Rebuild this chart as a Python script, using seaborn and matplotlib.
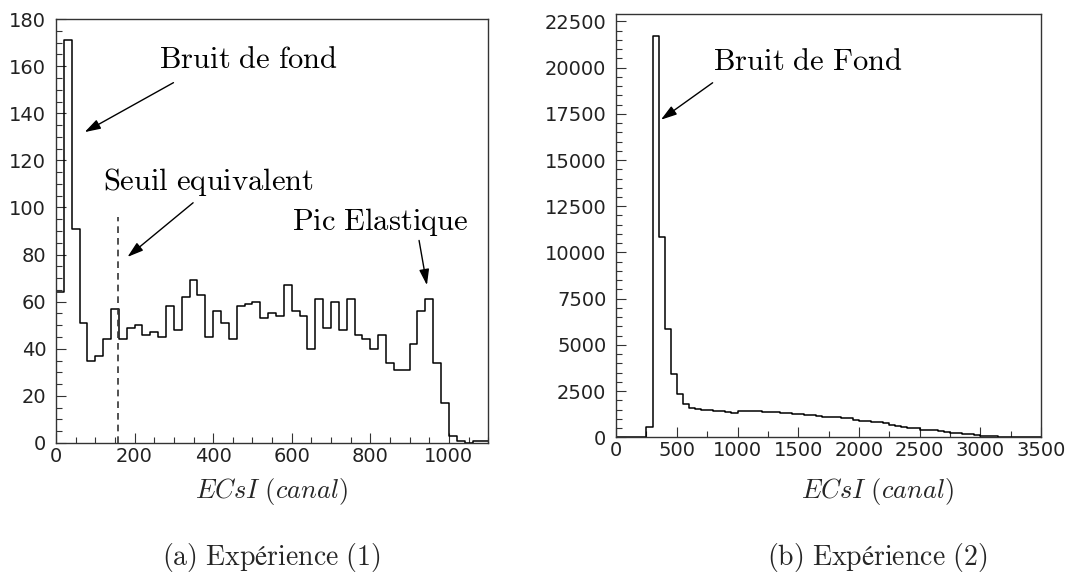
import numpy as np
import pandas as pd
import matplotlib
matplotlib.use("Agg")
import matplotlib.pyplot as plt
import seaborn as sns
from matplotlib.ticker import MultipleLocator

# Expérience (1): counts per 20-channel bin, 0..1100
exp1_bin_width = 20
exp1_counts = [64, 171, 91, 51, 35, 37, 44, 57, 44, 49,
               50, 46, 47, 45, 58, 48, 62, 69, 63, 45,
               56, 51, 44, 58, 59, 60, 53, 55, 54, 67,
               56, 54, 40, 61, 49, 60, 48, 61, 46, 44,
               40, 46, 34, 31, 31, 42, 56, 61, 34, 17,
               3, 1, 0, 1, 1]

# Expérience (2): counts per 50-channel bin, 0..3500
exp2_bin_width = 50
exp2_counts = [0, 0, 0, 0, 0, 580, 21700, 10850, 5850, 3450,
               2330, 1800, 1600, 1540, 1500, 1460, 1440, 1420, 1380, 1330,
               1410, 1420, 1420, 1400, 1390, 1370, 1350, 1330, 1310, 1280,
               1260, 1230, 1200, 1170, 1120, 1100, 1080, 1050, 1020, 960,
               880, 860, 840, 810, 790, 640, 610, 570, 530, 480,
               420, 400, 370, 340, 300, 260, 230, 200, 170, 140,
               90, 70, 50, 40, 25, 15, 8, 4, 2, 0]

threshold = 158  # seuil equivalent (canal)
threshold_top = 96

sns.set_theme(style="white")
plt.rcParams["font.family"] = ["DejaVu Sans"]
plt.rcParams["mathtext.fontset"] = "cm"


def make_frame(counts, width):
    edges = [i * width for i in range(len(counts) + 1)]
    df = pd.DataFrame({"canal": [e + width / 2 for e in edges[:-1]],
                       "counts": counts})
    return df, edges


def style_axes(ax, xmax, ymax, xmaj, xmin, ymaj, ymin):
    ax.set_xlim(0, xmax)
    ax.set_ylim(0, ymax)
    ax.xaxis.set_major_locator(MultipleLocator(xmaj))
    ax.xaxis.set_minor_locator(MultipleLocator(xmin))
    ax.yaxis.set_major_locator(MultipleLocator(ymaj))
    ax.yaxis.set_minor_locator(MultipleLocator(ymin))
    ax.tick_params(which="both", direction="in", top=False, right=False,
                   left=True, bottom=True, color="#333", width=0.8,
                   labelsize=14, labelcolor="#222")
    ax.tick_params(which="major", length=7)
    ax.tick_params(which="minor", length=4)
    ax.tick_params(axis="y", pad=7)
    ax.tick_params(axis="x", pad=3)
    for s in ax.spines.values():
        s.set_color("#333")
        s.set_linewidth(1.0)
    ax.set_xlabel("")
    ax.set_ylabel("")


fig = plt.figure(figsize=(10.66, 5.78), dpi=100)
ax1 = fig.add_axes([0.0525, 0.2336, 0.4055, 0.7334])
ax2 = fig.add_axes([0.578, 0.2434, 0.3985, 0.7324])

arrow = dict(arrowstyle="-|>,head_length=0.8,head_width=0.25", color="black",
             lw=1.0, shrinkA=0, shrinkB=0)
txt_kw = dict(fontsize=22, ha="center", va="center", color="black")

# left histogram
df1, edges1 = make_frame(exp1_counts, exp1_bin_width)
sns.histplot(data=df1, x="canal", weights="counts", bins=edges1,
             element="step", fill=False, color="black", linewidth=1.1, ax=ax1)
style_axes(ax1, 1100, 180, 200, 50, 20, 5)
ax1.plot([threshold, threshold], [0, threshold_top], color="#333",
         ls=(0, (4, 3)), lw=1.2)
ax1.text(489, 163, r"$\mathrm{Bruit\ de\ fond}$", **txt_kw)
ax1.annotate("", xy=(73, 132), xytext=(299, 153), arrowprops=arrow)
ax1.text(387, 111, r"$\mathrm{Seuil\ equivalent}$", **txt_kw)
ax1.annotate("", xy=(182, 79), xytext=(349, 102), arrowprops=arrow)
ax1.text(825, 94, r"$\mathrm{Pic\ Elastique}$", **txt_kw)
ax1.annotate("", xy=(944, 67), xytext=(924, 86), arrowprops=arrow)

# right histogram
df2, edges2 = make_frame(exp2_counts, exp2_bin_width)
sns.histplot(data=df2, x="canal", weights="counts", bins=edges2,
             element="step", fill=False, color="black", linewidth=1.1, ax=ax2)
style_axes(ax2, 3500, 22900, 500, 250, 2500, 500)
ax2.set_ylim(0, 22900)
ax2.text(1582, 20320, r"$\mathrm{Bruit\ de\ Fond}$", **txt_kw)
ax2.annotate("", xy=(369, 17180), xytext=(795, 19180), arrowprops=arrow)

# axis titles and captions
fig.text(0.255, 0.150, r"$ECsI\ (canal)$", fontsize=19, ha="center", va="center")
fig.text(0.823, 0.150, r"$ECsI\ (canal)$", fontsize=19, ha="center", va="center")
fig.text(0.255, 0.036, "$\\mathrm{(a)\\ Exp\u00e9rience\\ (1)}$", fontsize=20,
         ha="center", va="center")
fig.text(0.823, 0.036, "$\\mathrm{(b)\\ Exp\u00e9rience\\ (2)}$", fontsize=20,
         ha="center", va="center")

fig.savefig("out.png", dpi=100)
